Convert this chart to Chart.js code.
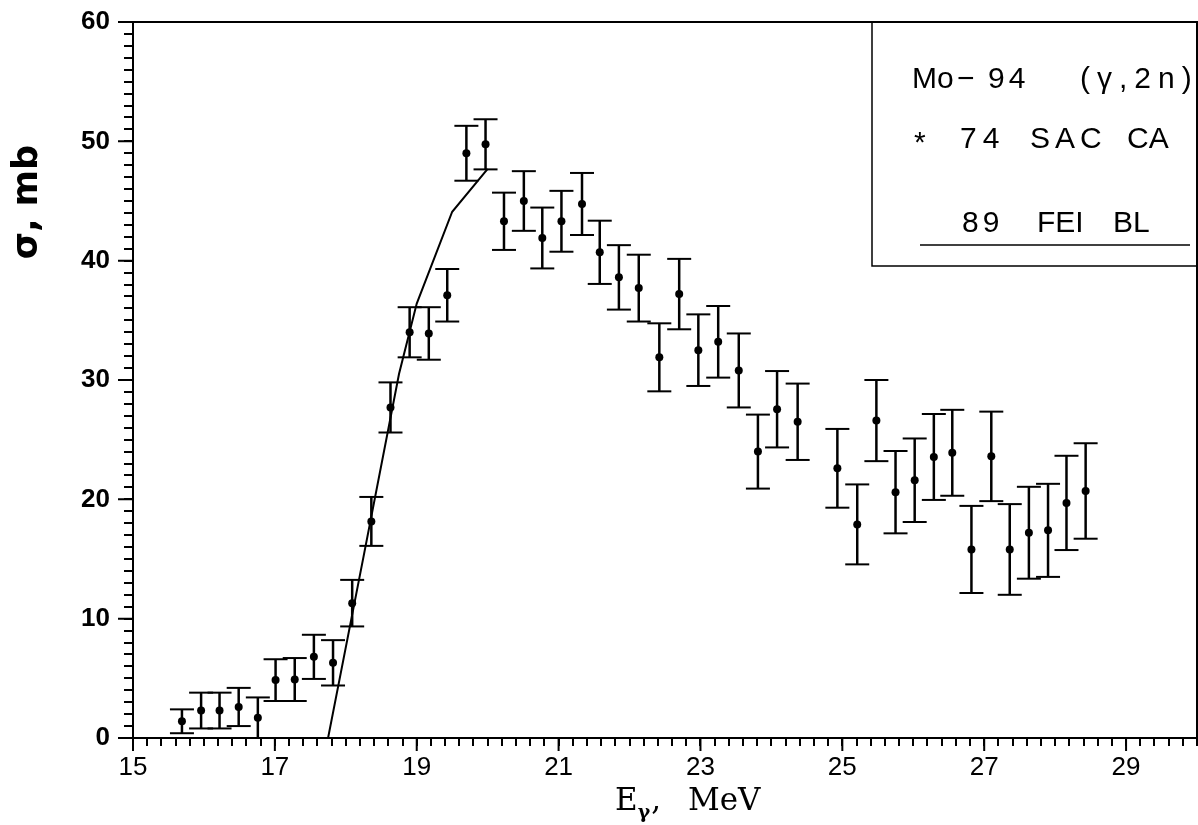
<!DOCTYPE html>
<html>
<head>
<meta charset="utf-8">
<script src="https://cdn.jsdelivr.net/npm/chart.js@4.4.1/dist/chart.umd.min.js"></script>
<style>
  html, body { margin: 0; padding: 0; background: #fff; }
  #wrap { width: 1198px; height: 825px; }
</style>
</head>
<body>
<div id="wrap"><canvas id="chart" width="1198" height="825"></canvas></div>
<script>
// 74 SAC CA measurements (E in MeV, sigma in mb)
const energy = [15.69, 15.96, 16.22, 16.49, 16.76, 17.01, 17.28, 17.55, 17.82, 18.09,
    18.36, 18.63, 18.90, 19.17, 19.43, 19.70, 19.97, 20.23, 20.51, 20.77,
    21.04, 21.33, 21.58, 21.85, 22.13, 22.42, 22.70, 22.97, 23.25, 23.54,
    23.81, 24.08, 24.37, 24.93, 25.21, 25.48, 25.75, 26.02, 26.29, 26.55,
    26.82, 27.10, 27.36, 27.63, 27.90, 28.16, 28.43];
const sigma = [1.4, 2.3, 2.3, 2.6, 1.7, 4.85, 4.9, 6.8, 6.3, 11.3,
    18.15, 27.7, 34.0, 33.9, 37.1, 49.0, 49.75, 43.3, 45.0, 41.9,
    43.3, 44.75, 40.7, 38.6, 37.7, 31.9, 37.2, 32.5, 33.2, 30.8,
    24.0, 27.55, 26.5, 22.6, 17.9, 26.6, 20.6, 21.6, 23.55, 23.9,
    15.8, 23.6, 15.8, 17.2, 17.4, 19.7, 20.7];
const sigmaErr = [1.0, 1.5, 1.5, 1.6, 1.7, 1.75, 1.8, 1.85, 1.9, 1.95,
    2.05, 2.1, 2.1, 2.2, 2.2, 2.3, 2.1, 2.4, 2.5, 2.55,
    2.55, 2.6, 2.65, 2.7, 2.8, 2.85, 2.95, 3.0, 3.0, 3.1,
    3.1, 3.2, 3.2, 3.3, 3.35, 3.4, 3.45, 3.5, 3.6, 3.6,
    3.65, 3.75, 3.8, 3.85, 3.9, 3.95, 4.0];

// 89 FEI BL curve
const curveEnergy = [17.75, 18.25, 18.75, 19.0, 19.5, 20.0];
const curveSigma = [0, 15.2, 30.5, 36.4, 44.1, 47.7];

// labelled ticks
const xMajor = [15, 17, 19, 21, 23, 25, 27, 29];
const yMajor = [0, 10, 20, 30, 40, 50, 60];

const points = energy.map((x, i) => ({ x: x, y: sigma[i], lo: sigma[i] - sigmaErr[i], hi: sigma[i] + sigmaErr[i] }));
const caps = [];
points.forEach(p => {
    caps.push({ x: p.x, y: p.hi });
    caps.push({ x: p.x, y: p.lo });
});
const curve = curveEnergy.map((x, i) => ({ x: x, y: curveSigma[i] }));

const isMajor = (v, list) => list.some(m => Math.abs(m - v) < 1e-6);

function spaced(ctx, text, x, y, gap) {
    ctx.letterSpacing = gap + 'px';
    ctx.fillText(text, x, y);
    ctx.letterSpacing = '0px';
}

// frame, longer major ticks, axis titles, legend box
const decorations = {
    id: 'decorations',
    afterDraw(chart) {
        const ctx = chart.ctx;
        const area = chart.chartArea;
        const xs = chart.scales.x;
        const ys = chart.scales.y;
        ctx.save();
        ctx.strokeStyle = '#000';
        ctx.fillStyle = '#000';
        ctx.lineWidth = 2;

        ctx.beginPath();
        ctx.moveTo(area.left, area.top);
        ctx.lineTo(area.right, area.top);
        ctx.lineTo(area.right, area.bottom);
        ctx.stroke();

        ctx.beginPath();
        xMajor.forEach(v => {
            const px = xs.getPixelForValue(v);
            ctx.moveTo(px, area.bottom);
            ctx.lineTo(px, area.bottom + 13);
        });
        yMajor.forEach(v => {
            const py = ys.getPixelForValue(v);
            ctx.moveTo(area.left, py);
            ctx.lineTo(area.left - 15, py);
        });
        ctx.stroke();

        // y title
        ctx.save();
        ctx.translate(37, 202);
        ctx.rotate(-Math.PI / 2);
        ctx.font = 'bold 35px "DejaVu Sans", sans-serif';
        ctx.textAlign = 'center';
        ctx.textBaseline = 'alphabetic';
        ctx.fillText('σ, mb', 0, 0);
        ctx.restore();

        // x title with subscript gamma
        ctx.textBaseline = 'alphabetic';
        ctx.textAlign = 'left';
        ctx.font = '31px "DejaVu Serif", serif';
        let tx = 615;
        ctx.fillText('E', tx, 810);
        tx += ctx.measureText('E').width;
        ctx.font = 'bold 19px "DejaVu Serif", serif';
        ctx.fillText('γ', tx, 818);
        tx += ctx.measureText('γ').width + 1;
        ctx.font = '31px "DejaVu Serif", serif';
        ctx.fillText(',', tx, 810);
        ctx.fillText('MeV', 688, 810);

        // legend box
        ctx.lineWidth = 1.5;
        ctx.beginPath();
        ctx.moveTo(872, area.top);
        ctx.lineTo(872, 266);
        ctx.lineTo(area.right, 266);
        ctx.stroke();

        ctx.font = '30px "Liberation Sans", Arial, sans-serif';
        ctx.fillText('Mo', 912, 88);
        ctx.fillText('\u2212', 957, 88);
        spaced(ctx, '94', 988, 88, 4);
        spaced(ctx, '(γ,2n)', 1080, 88, 7);
        ctx.fillText('*', 914, 152);
        spaced(ctx, '74', 960, 148, 6);
        spaced(ctx, 'SAC', 1030, 148, 5);
        ctx.fillText('CA', 1127, 148);
        spaced(ctx, '89', 962, 232, 4);
        ctx.fillText('FEI', 1037, 232);
        ctx.fillText('BL', 1113, 232);
        ctx.beginPath();
        ctx.moveTo(920, 245);
        ctx.lineTo(1190, 245);
        ctx.stroke();

        ctx.restore();
    }
};

new Chart(document.getElementById('chart'), {
    type: 'scatter',
    data: {
        datasets: [
            {
                label: '89 FEI BL',
                data: curve,
                showLine: true,
                borderColor: '#000',
                borderWidth: 2,
                pointRadius: 0,
                tension: 0
            },
            {
                label: 'whiskers',
                data: points,
                pointStyle: 'line',
                rotation: 90,
                borderColor: '#000',
                borderWidth: 2.5,
                radius: (c) => {
                    if (!c.raw) return 0;
                    const ys = c.chart.scales.y;
                    return Math.abs(ys.getPixelForValue(c.raw.lo) - ys.getPixelForValue(c.raw.hi)) / 2;
                }
            },
            {
                label: 'caps',
                data: caps,
                pointStyle: 'line',
                borderColor: '#000',
                borderWidth: 2,
                pointRadius: 12
            },
            {
                label: '74 SAC CA',
                data: points,
                pointStyle: 'circle',
                backgroundColor: '#000',
                borderColor: '#000',
                borderWidth: 0,
                pointRadius: 4
            }
        ]
    },
    options: {
        responsive: false,
        animation: false,
        events: [],
        devicePixelRatio: 1,
        layout: { autoPadding: false, padding: { left: 0, top: 22, right: 1, bottom: 0 } },
        plugins: {
            legend: { display: false },
            tooltip: { enabled: false }
        },
        scales: {
            x: {
                type: 'linear',
                min: 15,
                max: 30,
                afterFit: (s) => { s.height = 87; s.paddingLeft = 0; s.paddingRight = 0; },
                border: { color: '#000', width: 2 },
                grid: { drawOnChartArea: false, tickLength: 8, color: '#000', lineWidth: 2 },
                ticks: {
                    stepSize: 0.2,
                    autoSkip: false,
                    maxRotation: 0,
                    padding: 6,
                    color: '#000',
                    font: { family: '"Liberation Sans", Arial, sans-serif', size: 26 },
                    callback: (v) => isMajor(v, xMajor) ? String(Math.round(v)) : ''
                }
            },
            y: {
                type: 'linear',
                min: 0,
                max: 60,
                afterFit: (s) => { s.width = 133; s.paddingTop = 0; s.paddingBottom = 0; },
                border: { color: '#000', width: 2 },
                grid: { drawOnChartArea: false, tickLength: 9, color: '#000', lineWidth: 2 },
                ticks: {
                    stepSize: 1,
                    autoSkip: false,
                    padding: 14,
                    color: '#000',
                    font: { family: '"Liberation Sans", Arial, sans-serif', size: 26, weight: 'bold' },
                    callback: (v) => isMajor(v, yMajor) ? String(Math.round(v)) : ''
                }
            }
        }
    },
    plugins: [decorations]
});
</script>
</body>
</html>
